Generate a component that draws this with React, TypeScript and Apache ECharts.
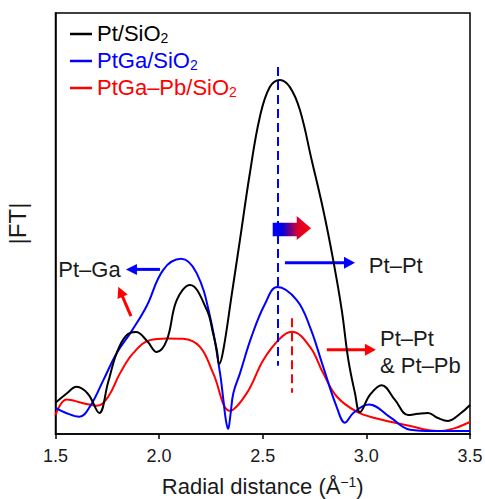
import React, { useEffect, useRef } from 'react';
import * as echarts from 'echarts';

// x: radial distance (Å), y: |FT| (arbitrary units)
const ptSiO2: [number, number][] = [
  [1.5, 7.4], [1.551, 9.5], [1.602, 11.2], [1.657, 9.5], [1.711, 5.0], [1.753, 12.1],
  [1.795, 19.2], [1.84, 23.3], [1.888, 24.2], [1.942, 22.1], [1.988, 19.5], [2.037, 22.3],
  [2.085, 31.8], [2.149, 35.4], [2.23, 29.5], [2.26, 24.0], [2.278, 20.0], [2.29, 16.6],
  [2.31, 20.0], [2.35, 33.0], [2.39, 46.1], [2.438, 62.0], [2.486, 75.3], [2.534, 82.4],
  [2.583, 84.1], [2.631, 82.4], [2.679, 77.0], [2.736, 65.1], [2.792, 53.2], [2.84, 41.3],
  [2.881, 29.5], [2.913, 17.6], [2.945, 9.7], [2.969, 5.2], [3.017, 9.3], [3.074, 11.6],
  [3.138, 8.1], [3.201, 4.5], [3.249, 4.8], [3.297, 5.0], [3.345, 3.8], [3.394, 3.1],
  [3.452, 4.8], [3.5, 6.9],
];

const ptGaSiO2: [number, number][] = [
  [1.5, 6.2], [1.551, 5.0], [1.615, 4.1], [1.666, 6.5], [1.731, 12.8], [1.795, 19.2],
  [1.868, 24.5], [1.94, 30.4], [2.02, 39.0], [2.106, 41.6], [2.181, 38.2], [2.246, 27.8],
  [2.294, 14.4], [2.31, 8.1], [2.322, 3.3], [2.333, 1.2], [2.344, 4.5], [2.358, 9.7],
  [2.39, 14.4], [2.445, 23.0], [2.51, 30.8], [2.57, 34.9], [2.664, 31.8], [2.728, 25.4],
  [2.792, 15.9], [2.857, 6.4], [2.897, 2.7], [2.937, 5.0], [3.013, 7.0], [3.114, 4.0],
  [3.211, 1.0], [3.322, 0.7], [3.5, 0.7],
];

const ptGaPbSiO2: [number, number][] = [
  [1.5, 4.5], [1.554, 8.2], [1.634, 7.3], [1.699, 6.7], [1.755, 8.9], [1.811, 14.4],
  [1.875, 19.2], [1.956, 22.3], [2.037, 22.7], [2.115, 22.6], [2.197, 20.7], [2.261, 14.4],
  [2.342, 5.5], [2.423, 9.7], [2.503, 17.6], [2.583, 22.7], [2.64, 24.3], [2.728, 20.7],
  [2.792, 14.4], [2.857, 8.9], [2.953, 5.3], [3.05, 3.7], [3.195, 2.1], [3.347, 0.7],
  [3.428, 1.4], [3.5, 2.9],
];

const seriesNames = ['Pt/SiO2', 'PtGa/SiO2', 'PtGa–Pb/SiO2'];
const seriesColors = ['#000000', '#0000ff', '#ff0000'];
const xTicks = [1.5, 2.0, 2.5, 3.0, 3.5];

// annotation positions (data coordinates)
const blueDash: [number, number][] = [[2.574, 87.2], [2.574, 16.2]];
const redDash: [number, number][] = [[2.642, 27.5], [2.642, 9.8]];

const FONT = '"Liberation Sans", Arial, Helvetica, sans-serif';

export default function App() {
  const ref = useRef<HTMLDivElement>(null);

  useEffect(() => {
    if (!ref.current) return;
    const chart = echarts.init(ref.current, undefined, { renderer: 'svg' });
    const datasets = [ptSiO2, ptGaSiO2, ptGaPbSiO2];
    chart.setOption({
      animation: false,
      textStyle: { fontFamily: FONT },
      grid: {
        left: 55.5, right: 15, top: 13, bottom: 65,
        containLabel: false,
        outerBoundsMode: 'none',
        show: true, borderColor: '#000', borderWidth: 1.5,
      },
      legend: {
        orient: 'vertical',
        left: 65,
        top: 17,
        icon: 'rect',
        itemWidth: 22,
        itemHeight: 2.5,
        itemGap: 4,
        itemTextGap: 14,
        selectedMode: false,
        formatter: (n: string) => '{m|' + n.replace('SiO2', 'SiO}{sub|2}'),
        textStyle: {
          fontSize: 22,
          fontFamily: FONT,
          rich: {
            m: { fontSize: 22, fontFamily: FONT, lineHeight: 24, verticalAlign: 'top' },
            sub: { fontSize: 14, fontFamily: FONT, lineHeight: 14, verticalAlign: 'top', padding: [9, 0, 0, 0] },
          },
        },
        data: seriesNames.map((n, i) => ({ name: n, textStyle: { color: seriesColors[i] } })),
      },
      xAxis: {
        type: 'value',
        min: 1.5,
        max: 3.5,
        interval: 0.5,
        name: 'Radial distance (Å{sup|−1})',
        nameLocation: 'middle',
        nameGap: 41,
        nameTextStyle: {
          fontSize: 22, color: '#1a1a1a', fontFamily: FONT,
          rich: { sup: { fontSize: 14, fontFamily: FONT, color: '#1a1a1a', verticalAlign: 'top', padding: [0, 0, 8, 0] } },
        },
        axisLine: { lineStyle: { color: '#000', width: 1.5 } },
        axisTick: { show: true, length: 5, lineStyle: { color: '#000', width: 1.5 } },
        axisLabel: {
          fontSize: 18, color: '#1a1a1a', margin: 13, fontFamily: FONT,
          formatter: (v: number) => (xTicks.includes(v) ? v.toFixed(1) : ''),
        },
        splitLine: { show: false },
      },
      yAxis: {
        type: 'value',
        min: 0,
        max: 100,
        name: '|FT|',
        nameLocation: 'middle',
        nameGap: 26,
        nameTextStyle: { fontSize: 24, color: '#1a1a1a', fontFamily: FONT },
        axisLine: { show: true, lineStyle: { color: '#000', width: 1.5 } },
        axisTick: { show: false },
        axisLabel: { show: false },
        splitLine: { show: false },
      },
      series: datasets.map((d, i) => ({
        name: seriesNames[i],
        type: 'line',
        data: d,
        smooth: 0.4,
        symbol: 'none',
        z: 3 - i,
        lineStyle: { color: seriesColors[i], width: 2 },
        itemStyle: { color: seriesColors[i] },
        markLine:
          i === 0
            ? undefined
            : {
                silent: true,
                symbol: ['none', 'none'],
                label: { show: false },
                lineStyle: { type: [9, 5], color: seriesColors[i], width: 2 },
                data: [[{ coord: (i === 1 ? blueDash : redDash)[0] }, { coord: (i === 1 ? blueDash : redDash)[1] }]],
              },
      })),
    });

    const P = (x: number, y: number) => chart.convertToPixel({ gridIndex: 0 }, [x, y]) as number[];

    const arrow = (tail: number[], tip: number[], color: string, w: number, hl: number, hw: number) => {
      const dx = tip[0] - tail[0];
      const dy = tip[1] - tail[1];
      const len = Math.hypot(dx, dy);
      const ux = dx / len, uy = dy / len;
      const nx = -uy, ny = ux;
      const bx = tip[0] - ux * hl, by = tip[1] - uy * hl;
      return [
        { type: 'line', shape: { x1: tail[0], y1: tail[1], x2: bx + ux, y2: by + uy }, style: { stroke: color, lineWidth: w }, silent: true },
        {
          type: 'polygon',
          shape: { points: [[tip[0], tip[1]], [bx + nx * hw / 2, by + ny * hw / 2], [bx - nx * hw / 2, by - ny * hw / 2]] },
          style: { fill: color },
          silent: true,
        },
      ];
    };

    const text = (t: string, p: number[], align: string) => ({
      type: 'text', x: p[0], y: p[1], silent: true,
      style: { text: t, fontSize: 22, fontFamily: FONT, fill: '#1a1a1a', align, verticalAlign: 'middle' },
    });

    // gradient arrow
    const b1 = P(2.548, 50.2), b2 = P(2.664, 47.0), h1 = P(2.664, 51.8), h2 = P(2.664, 46.1), tp = P(2.733, 48.9);
    const gradArrow = {
      type: 'polygon', silent: true,
      shape: { points: [[b1[0], b1[1]], [b2[0], b1[1]], [h1[0], h1[1]], [tp[0], tp[1]], [h2[0], h2[1]], [b2[0], b2[1]], [b1[0], b2[1]]] },
      style: {
        fill: new echarts.graphic.LinearGradient(0, 0, 1, 0, [
          { offset: 0, color: '#0000ff' },
          { offset: 0.25, color: '#0000e0' },
          { offset: 0.65, color: '#d8002e' },
          { offset: 1, color: '#ff0000' },
        ]),
      },
    };

    chart.setOption({
      graphic: [
        gradArrow,
        ...arrow(P(2.004, 39.1), P(1.84, 39.1), '#0000ff', 3, 11, 11),
        ...arrow(P(1.864, 28.0), P(1.803, 35.0), '#ff0000', 3, 11, 11),
        ...arrow(P(2.607, 40.7), P(2.945, 40.7), '#0000ff', 3, 11, 12),
        ...arrow(P(2.809, 20.0), P(3.046, 20.0), '#ff0000', 3, 11, 12),
        text('Pt–Ga', P(1.664, 39.1), 'center'),
        text('Pt–Pt', P(3.012, 40.1), 'left'),
        text('Pt–Pt', P(3.066, 22.6), 'left'),
        text('& Pt–Pb', P(3.066, 16.2), 'left'),
      ],
    });

    return () => chart.dispose();
  }, []);

  return <div ref={ref} style={{ width: 485, height: 499, position: 'absolute', left: 0, top: 0 }} />;
}
